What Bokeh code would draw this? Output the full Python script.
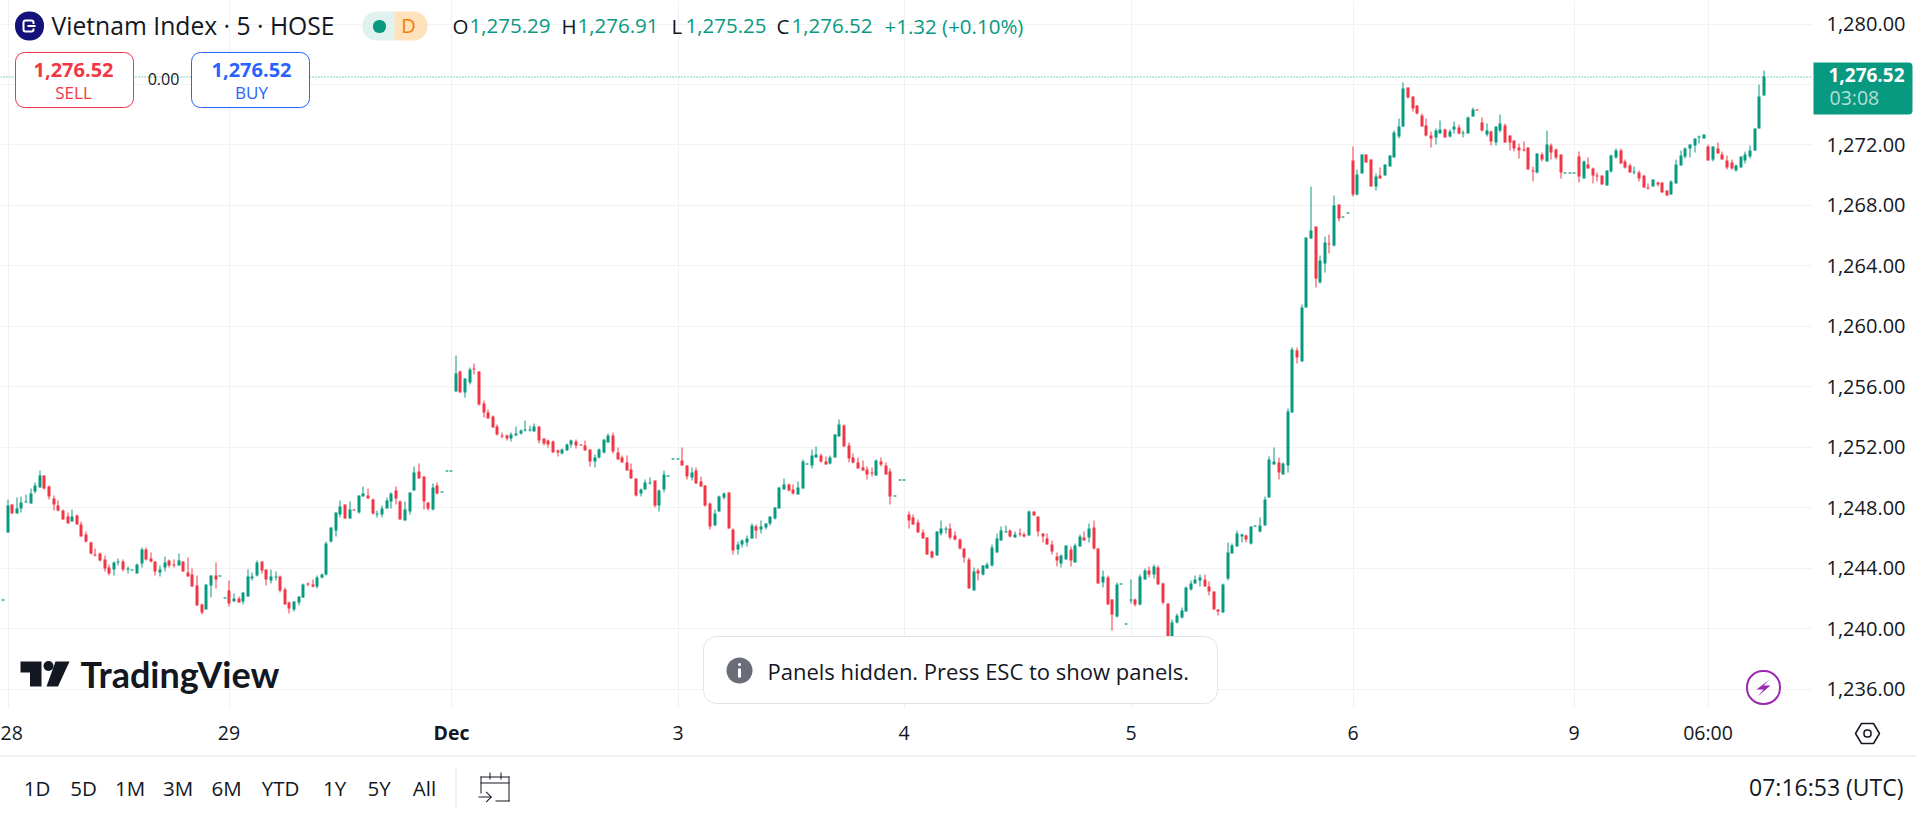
import math
import numpy as np
from bokeh.embed import file_html
from bokeh.resources import INLINE
from bokeh.models import (Range1d, FixedTicker, NumeralTickFormatter, Label, BoxAnnotation,
                          PolyAnnotation, ColumnDataSource)
from bokeh.plotting import figure

# ---------------- data ----------------
tick_prices = [1236, 1240, 1244, 1248, 1252, 1256, 1260, 1264, 1268, 1272, 1276, 1280]
time_tick_bars = [1, 49, 146, 195, 244, 292, 340, 369]
time_tick_labels = ["28", "29", "3", "4", "5", "6", "9", "06:00"]
month_tick_bar = 97
month_tick_label = "Dec"
range_buttons = ["1D", "5D", "1M", "3M", "6M", "YTD", "1Y", "5Y", "All"]
last_price = 1276.52

opens = [1241.95,
1246.37,1248.20,1247.63,1247.94,1248.36,1248.27,1249.06,1249.33,1250.12,
1249.39,1248.60,1248.13,1247.80,1247.41,1247.07,1247.47,1246.88,1246.21,1245.68,
1244.93,1244.96,1244.56,1244.03,1243.89,1244.38,1244.42,1243.92,1243.94,1243.63,
1244.29,1245.22,1244.62,1244.42,1243.70,1244.03,1244.49,1244.23,1244.16,1244.42,
1243.70,1243.56,1242.84,1241.58,1241.25,1242.84,1243.50,1243.48,1242.08,1242.50,
1241.78,1241.97,1241.78,1242.11,1243.30,1243.50,1244.42,1243.89,1243.17,1243.39,
1243.43,1242.57,1241.71,1241.25,1241.71,1242.04,1242.97,1242.90,1242.77,1243.37,
1243.56,1245.75,1246.48,1247.54,1248.20,1247.27,1247.88,1247.67,1248.73,1248.80,
1248.53,1247.56,1247.54,1247.94,1248.40,1249.13,1248.40,1247.14,1247.74,1249.13,
1250.39,1250.05,1248.33,1247.87,1249.46,1249.04,1250.43,1250.43,1255.69,1257.02,
1255.63,1256.29,1257.19,1257.02,1254.90,1254.30,1254.04,1253.37,1252.76,1252.78,
1252.58,1252.78,1252.91,1253.13,1253.13,1253.04,1253.37,1252.58,1252.45,1252.38,
1251.78,1251.58,1251.78,1252.18,1252.38,1252.21,1252.11,1251.85,1251.05,1251.32,
1251.65,1252.31,1252.78,1251.65,1251.32,1250.99,1250.52,1249.93,1248.94,1249.20,
1249.60,1249.80,1248.14,1249.20,1250.11,1251.25,1251.25,1251.12,1250.79,1250.00,
1250.46,1249.73,1249.47,1248.27,1246.82,1247.74,1248.67,1249.00,1246.57,1245.24,
1245.58,1245.71,1245.97,1246.77,1246.57,1246.70,1246.97,1247.30,1247.94,1249.20,
1249.53,1249.20,1248.87,1249.27,1250.90,1250.79,1251.32,1251.45,1251.05,1250.92,
1251.32,1252.71,1253.44,1252.11,1251.32,1250.99,1250.66,1250.52,1250.33,1250.13,
1251.05,1250.79,1250.39,1248.78,1249.84,1249.83,1247.54,1247.34,1247.01,1246.35,
1246.01,1245.09,1244.82,1246.28,1246.59,1246.61,1246.15,1245.88,1245.29,1244.56,
1242.50,1243.83,1243.56,1243.96,1244.16,1245.02,1245.82,1246.37,1246.48,1246.01,
1246.26,1246.21,1246.15,1247.74,1247.41,1246.28,1245.95,1245.55,1244.76,1244.29,
1244.56,1245.22,1244.36,1245.42,1246.01,1246.01,1246.68,1245.29,1243.03,1243.37,
1241.91,1240.78,1242.95,1240.36,1241.84,1241.91,1241.58,1243.23,1243.83,1243.56,
1244.03,1242.97,1241.64,1238.95,1240.38,1240.72,1241.11,1242.57,1242.97,1243.17,
1243.23,1242.77,1242.44,1241.25,1241.05,1243.30,1244.96,1245.42,1246.08,1246.15,
1245.62,1246.79,1246.41,1246.81,1248.66,1250.85,1250.98,1250.21,1250.80,1254.31,
1258.42,1257.69,1261.27,1265.84,1266.57,1262.92,1264.18,1265.51,1265.37,1268.09,
1267.27,1267.54,1270.99,1268.73,1270.12,1271.38,1271.05,1269.26,1269.99,1269.99,
1270.59,1271.18,1272.58,1273.24,1275.82,1275.22,1274.63,1273.97,1273.30,1272.64,
1272.51,1272.77,1273.04,1272.58,1273.04,1273.17,1272.82,1272.77,1273.90,1274.31,
1273.50,1272.71,1272.91,1272.18,1272.97,1273.30,1272.64,1272.31,1271.85,1271.71,
1271.85,1270.32,1270.19,1271.38,1270.92,1271.98,1271.71,1271.38,1270.17,1270.17,
1270.17,1271.25,1269.79,1270.72,1270.46,1269.99,1269.99,1269.33,1270.26,1271.18,
1271.65,1270.92,1270.66,1270.21,1270.19,1269.97,1269.17,1269.24,1269.50,1269.50,
1268.97,1268.71,1269.44,1270.63,1271.23,1271.76,1271.96,1272.51,1272.42,1271.89,
1271.03,1271.76,1271.36,1270.96,1270.83,1270.30,1270.50,1270.96,1271.23,1271.62,
1273.08,1275.29]

highs = [1241.95,
1248.53,1248.20,1248.66,1248.73,1248.86,1249.26,1249.66,1250.45,1250.12,
1249.46,1248.80,1248.47,1247.87,1247.67,1247.87,1247.54,1247.07,1246.41,1245.75,
1245.29,1245.02,1244.82,1244.23,1244.42,1244.62,1244.56,1244.09,1243.94,1244.29,
1245.35,1245.35,1245.02,1244.42,1244.16,1244.76,1244.56,1244.56,1244.96,1244.42,
1244.69,1243.96,1243.50,1241.64,1242.90,1243.50,1244.36,1243.48,1242.08,1243.17,
1242.30,1242.11,1242.37,1243.89,1243.70,1244.49,1244.42,1243.89,1243.89,1243.76,
1243.50,1242.70,1241.78,1241.78,1242.11,1242.97,1243.03,1243.23,1243.50,1243.63,
1245.75,1246.68,1247.67,1248.47,1248.20,1248.40,1247.88,1248.80,1249.39,1249.26,
1248.60,1247.80,1248.13,1248.66,1249.00,1249.39,1248.47,1248.40,1249.00,1250.72,
1250.92,1250.05,1248.33,1249.59,1249.66,1249.04,1250.43,1250.43,1258.08,1257.06,
1256.55,1257.28,1257.55,1257.02,1255.10,1254.50,1254.10,1253.51,1252.98,1252.84,
1252.98,1253.37,1253.17,1253.77,1253.44,1253.57,1253.37,1252.58,1252.51,1252.45,
1251.85,1251.92,1252.25,1252.51,1252.51,1252.21,1252.45,1251.85,1251.52,1251.92,
1252.51,1252.91,1252.98,1251.98,1251.45,1251.45,1250.92,1249.93,1249.27,1249.86,
1250.00,1249.80,1249.20,1250.46,1250.11,1251.25,1251.25,1251.98,1250.79,1250.66,
1250.66,1250.06,1249.47,1248.34,1247.88,1248.80,1249.00,1249.00,1246.63,1245.77,
1245.91,1246.17,1246.97,1246.90,1247.17,1246.97,1247.43,1248.03,1249.33,1249.93,
1249.60,1249.53,1249.73,1251.19,1250.90,1251.85,1252.05,1251.58,1251.39,1251.45,
1252.84,1253.84,1253.51,1252.31,1251.58,1251.32,1251.12,1250.72,1250.66,1251.19,
1251.32,1250.99,1250.59,1248.78,1249.84,1249.83,1247.74,1247.54,1247.21,1246.54,
1246.01,1245.15,1246.41,1247.14,1246.74,1246.94,1246.41,1245.95,1245.29,1244.69,
1244.03,1243.96,1244.16,1244.36,1245.55,1246.28,1246.74,1246.81,1246.54,1246.41,
1246.61,1246.35,1247.80,1247.74,1247.41,1246.28,1246.28,1245.82,1245.02,1244.89,
1245.48,1245.42,1245.62,1246.21,1246.41,1246.94,1247.14,1245.29,1243.83,1243.50,
1241.91,1243.03,1242.95,1240.36,1243.23,1241.97,1243.56,1243.96,1244.09,1244.23,
1244.16,1243.03,1241.64,1240.58,1240.98,1241.38,1242.77,1243.17,1243.50,1243.56,
1243.56,1243.10,1242.44,1241.25,1242.97,1245.68,1245.62,1246.48,1246.28,1246.21,
1246.74,1246.79,1247.34,1248.73,1251.38,1251.98,1251.31,1251.00,1254.58,1258.62,
1258.62,1261.47,1265.90,1269.22,1266.57,1264.65,1265.97,1266.04,1268.62,1268.09,
1267.27,1267.54,1271.91,1270.39,1271.38,1271.38,1271.05,1270.12,1270.52,1270.72,
1271.32,1272.97,1273.77,1276.15,1275.82,1275.22,1274.63,1274.10,1273.77,1272.91,
1273.11,1273.64,1273.11,1273.04,1273.57,1273.37,1272.97,1273.90,1274.50,1274.31,
1273.83,1273.44,1272.97,1273.24,1274.03,1273.44,1272.64,1272.31,1272.11,1272.24,
1271.85,1270.59,1271.45,1271.52,1272.97,1272.11,1271.78,1271.38,1270.17,1270.17,
1270.17,1271.58,1270.99,1271.18,1270.52,1270.19,1269.99,1270.32,1271.38,1271.78,
1271.78,1271.05,1270.79,1270.59,1270.32,1269.97,1269.44,1269.70,1269.57,1269.50,
1268.97,1269.64,1271.03,1271.62,1271.82,1272.02,1272.42,1272.62,1272.68,1272.02,
1271.89,1272.15,1271.56,1271.29,1271.03,1270.70,1271.23,1271.56,1271.96,1273.08,
1276.00,1276.91]

lows = [1241.95,
1246.37,1247.63,1247.63,1247.67,1248.36,1248.27,1248.95,1249.33,1249.19,
1248.53,1247.80,1247.74,1247.21,1246.94,1247.07,1246.88,1246.08,1245.68,1244.89,
1244.76,1244.42,1243.76,1243.50,1243.50,1244.16,1243.76,1243.63,1243.94,1243.63,
1244.03,1244.49,1244.36,1243.50,1243.43,1243.76,1244.03,1244.03,1244.16,1243.76,
1243.43,1242.77,1241.51,1240.91,1241.25,1242.04,1242.64,1243.48,1242.08,1241.44,
1241.78,1241.71,1241.58,1242.11,1243.17,1243.43,1243.63,1242.84,1242.97,1243.17,
1242.37,1241.58,1240.98,1241.11,1241.51,1242.04,1242.77,1242.70,1242.64,1243.30,
1243.50,1245.68,1246.08,1247.34,1247.27,1247.27,1247.87,1247.60,1248.73,1248.60,
1247.54,1247.34,1247.34,1247.94,1247.94,1248.20,1247.21,1247.14,1247.54,1249.13,
1249.92,1247.87,1247.80,1247.80,1248.86,1249.04,1250.43,1250.43,1255.69,1255.63,
1255.29,1256.16,1256.82,1254.76,1253.97,1253.90,1253.31,1252.78,1252.58,1252.45,
1252.38,1252.78,1252.84,1253.04,1253.04,1253.04,1252.25,1252.11,1251.98,1251.65,
1251.39,1251.52,1251.78,1251.98,1251.92,1252.20,1251.78,1250.72,1250.66,1251.25,
1251.58,1252.31,1251.58,1251.19,1250.99,1250.46,1249.93,1248.74,1248.74,1249.20,
1249.53,1248.01,1247.74,1249.00,1250.11,1251.25,1251.25,1250.79,1249.86,1249.80,
1249.60,1249.40,1248.07,1246.55,1246.82,1247.74,1248.54,1246.62,1244.91,1244.91,
1245.38,1245.44,1245.97,1245.97,1246.30,1246.57,1246.83,1247.23,1247.94,1249.20,
1249.07,1248.87,1248.87,1249.27,1250.90,1250.59,1251.32,1250.99,1250.86,1250.86,
1251.32,1252.71,1252.05,1250.99,1250.92,1250.59,1250.46,1249.86,1250.06,1250.13,
1250.72,1250.19,1248.21,1248.78,1249.84,1249.83,1246.61,1246.88,1246.35,1245.95,
1244.89,1244.62,1244.82,1246.15,1246.28,1245.88,1245.82,1245.22,1244.36,1242.64,
1242.50,1243.17,1243.50,1243.96,1244.09,1245.02,1245.82,1246.37,1246.01,1246.01,
1246.08,1246.01,1246.15,1247.47,1246.08,1245.68,1245.55,1244.89,1244.09,1244.03,
1244.56,1244.09,1244.36,1245.42,1245.82,1245.68,1245.22,1242.97,1242.70,1241.58,
1239.85,1240.72,1242.95,1240.36,1241.64,1241.44,1241.51,1243.23,1243.37,1243.30,
1242.90,1241.58,1238.90,1238.95,1240.32,1240.65,1241.11,1242.50,1242.97,1242.77,
1242.77,1242.17,1241.25,1240.85,1241.05,1243.17,1244.96,1245.42,1245.68,1245.68,
1245.55,1246.79,1246.35,1246.81,1248.66,1250.85,1249.86,1250.21,1250.34,1254.31,
1257.56,1257.69,1261.27,1265.84,1262.59,1262.86,1263.59,1264.84,1265.31,1266.90,
1267.27,1267.54,1268.60,1268.67,1270.12,1270.85,1269.26,1269.00,1269.79,1269.99,
1270.59,1271.18,1272.44,1273.24,1275.09,1274.23,1274.03,1273.24,1272.58,1271.85,
1272.05,1272.77,1272.51,1272.51,1272.77,1272.71,1272.51,1272.77,1273.90,1274.30,
1272.91,1272.58,1271.98,1271.98,1272.84,1272.18,1271.65,1271.58,1271.12,1271.58,
1270.39,1269.59,1270.12,1270.92,1270.92,1271.05,1271.05,1269.79,1270.17,1270.17,
1270.17,1269.53,1269.79,1270.46,1269.46,1269.59,1269.40,1269.33,1270.19,1271.12,
1270.79,1270.46,1270.19,1270.06,1269.59,1269.17,1269.04,1269.24,1269.24,1268.84,
1268.64,1268.71,1269.44,1270.63,1271.09,1271.16,1271.49,1272.09,1272.42,1270.96,
1270.90,1271.43,1271.03,1270.37,1270.37,1270.23,1270.50,1270.76,1271.09,1271.62,
1273.08,1275.25]

closes = [1241.95,
1248.13,1247.63,1247.94,1248.33,1248.38,1248.93,1249.46,1250.12,1249.26,
1248.73,1248.20,1247.80,1247.21,1246.94,1247.41,1246.88,1246.08,1245.75,1244.96,
1244.87,1244.49,1243.96,1243.63,1244.36,1244.42,1243.89,1243.96,1243.94,1244.23,
1245.22,1244.56,1244.42,1243.76,1243.89,1244.36,1244.16,1244.16,1244.49,1243.76,
1243.43,1242.77,1241.51,1241.05,1242.90,1243.50,1243.23,1243.48,1242.08,1241.64,
1241.97,1241.71,1242.37,1243.43,1243.43,1244.36,1243.83,1243.23,1243.43,1243.43,
1242.50,1241.58,1241.31,1241.78,1242.11,1242.90,1242.90,1242.77,1243.37,1243.56,
1245.62,1246.68,1247.67,1248.07,1247.27,1247.87,1247.87,1248.80,1248.93,1248.60,
1247.60,1247.60,1247.94,1248.47,1248.93,1248.60,1247.21,1247.87,1249.00,1250.32,
1249.92,1248.40,1247.94,1249.33,1248.93,1249.04,1250.43,1250.43,1256.88,1255.63,
1256.55,1257.15,1257.15,1254.83,1254.30,1253.90,1253.31,1252.84,1252.71,1252.58,
1252.84,1252.91,1253.11,1253.17,1253.17,1253.37,1252.45,1252.25,1252.18,1251.65,
1251.65,1251.85,1252.18,1252.45,1252.11,1252.20,1251.78,1251.05,1251.32,1251.85,
1252.51,1252.78,1251.72,1251.19,1250.99,1250.46,1249.93,1248.80,1249.20,1249.66,
1249.64,1248.14,1249.13,1250.19,1250.11,1251.25,1251.25,1250.79,1250.06,1250.33,
1249.60,1249.40,1248.14,1246.75,1247.61,1248.74,1248.94,1246.62,1245.18,1245.58,
1245.84,1245.97,1246.83,1246.50,1246.77,1246.97,1247.43,1248.03,1249.33,1249.53,
1249.13,1248.94,1249.33,1251.05,1250.90,1251.45,1251.52,1251.05,1250.86,1251.32,
1252.84,1253.51,1252.05,1251.25,1250.99,1250.59,1250.46,1250.19,1250.28,1251.12,
1250.86,1250.19,1248.74,1248.78,1249.84,1249.83,1247.14,1246.88,1246.35,1245.95,
1244.89,1244.69,1246.41,1246.61,1246.61,1246.01,1245.88,1245.29,1244.69,1242.64,
1243.76,1243.63,1244.16,1244.23,1245.35,1245.95,1246.48,1246.41,1246.08,1246.21,
1246.21,1246.08,1247.74,1247.47,1246.41,1246.08,1245.55,1245.09,1244.49,1244.82,
1245.48,1244.49,1245.48,1246.08,1245.82,1246.61,1245.29,1242.97,1243.43,1241.58,
1240.91,1242.90,1242.95,1240.36,1241.89,1241.58,1243.43,1243.83,1243.56,1244.09,
1242.90,1241.71,1238.90,1240.38,1240.85,1241.18,1242.70,1242.97,1243.23,1243.37,
1242.77,1242.44,1241.25,1241.11,1242.90,1245.02,1245.48,1246.28,1246.21,1245.88,
1246.74,1246.79,1246.81,1248.53,1251.18,1251.05,1250.32,1250.93,1254.38,1258.49,
1257.96,1261.27,1265.90,1266.37,1263.19,1264.38,1265.57,1265.46,1267.96,1267.16,
1267.27,1267.54,1268.73,1270.06,1271.38,1270.85,1269.26,1269.93,1269.79,1270.72,
1271.32,1272.84,1273.24,1275.76,1275.16,1274.43,1274.10,1273.24,1272.64,1272.44,
1272.97,1273.04,1272.51,1272.91,1273.24,1272.77,1272.84,1273.83,1274.36,1274.30,
1272.97,1272.97,1272.24,1273.24,1273.44,1272.18,1272.18,1271.78,1271.65,1271.67,
1270.39,1270.30,1271.45,1271.05,1272.05,1271.52,1271.18,1270.19,1270.17,1270.17,
1270.17,1269.93,1270.92,1270.46,1269.99,1269.95,1269.40,1270.32,1271.32,1271.65,
1270.79,1270.52,1270.19,1270.24,1269.79,1269.17,1269.13,1269.70,1269.37,1268.84,
1268.64,1269.57,1270.70,1271.29,1271.76,1272.02,1272.42,1272.55,1272.68,1270.96,
1271.89,1271.43,1271.03,1270.50,1270.43,1270.63,1271.23,1271.36,1271.62,1273.08,
1275.20,1276.52]

assert len(opens) == len(highs) == len(lows) == len(closes)

# ---------------- geometry ----------------
UP, DOWN = "#089981", "#F23645"
INK = "#131722"
FONT = "Open Sans"
W, H = 1916, 818
PANE_W, PANE_H = 1812, 708
X0, STEP = 2.4, 4.622
Y1280, K = 23.5, 15.114


def bar_x(i):
    return (math.floor(X0 + STEP * i) + 0.5 - X0) / STEP


def snap(price):
    return 1280 - (round(Y1280 + (1280 - price) * K) - Y1280) / K


n = len(opens)
xs = [bar_x(i) for i in range(n)]
tops, bots, wick_hi, wick_lo, colors = [], [], [], [], []
for o, h, l, c in zip(opens, highs, lows, closes):
    colors.append(DOWN if c < o else UP)
    t, b = snap(max(o, c)), snap(min(o, c))
    if t - b < 0.5 / K:
        b = t - 1 / K
    tops.append(t)
    bots.append(b)
    wick_hi.append(max(snap(h), t))
    wick_lo.append(min(snap(l), b))
source = ColumnDataSource(dict(x=xs, top=tops, bottom=bots, hi=wick_hi, lo=wick_lo, color=colors))

# the plotting frame fills the whole page; the axes sit at fixed places inside it
x_start = -X0 / STEP
x_end = (W - X0) / STEP
y_end = 1280 + Y1280 / K
y_start = 1280 - (H - Y1280) / K

p = figure(width=W, height=H, output_backend="svg", toolbar_location=None,
           x_range=Range1d(x_start, x_end), y_range=Range1d(y_start, y_end),
           y_axis_location="right", min_border=0,
           background_fill_color="white", border_fill_color="white", outline_line_color=None)

# axes and grid
tick_xs = [bar_x(i) for i in time_tick_bars]
xtick_all = tick_xs + [bar_x(month_tick_bar)]
p.xaxis.ticker = FixedTicker(ticks=xtick_all)
overrides = {x: t for x, t in zip(tick_xs, time_tick_labels)}
overrides[bar_x(month_tick_bar)] = " "
p.xaxis.major_label_overrides = overrides
p.yaxis.ticker = FixedTicker(ticks=tick_prices)
p.yaxis.formatter = NumeralTickFormatter(format="0,0.00")
p.xaxis.fixed_location = 1280 - (PANE_H - Y1280) / K
p.yaxis.fixed_location = (PANE_W - X0) / STEP
for ax in (p.xaxis[0], p.yaxis[0]):
    ax.axis_line_color = None
    ax.major_tick_line_color = None
    ax.minor_tick_line_color = None
    ax.major_tick_out = 0
    ax.major_tick_in = 0
    ax.minor_tick_out = 0
    ax.major_label_text_font = FONT
    ax.major_label_text_color = INK
p.xaxis.major_label_text_font_size = "19.5px"
p.yaxis.major_label_text_font_size = "20px"
p.xaxis.major_label_standoff = 10
p.yaxis.major_label_standoff = 14
p.xgrid.grid_line_color = "#F2F2F3"
p.ygrid.grid_line_color = "#F2F2F3"
p.xgrid.grid_line_width = 1
p.ygrid.grid_line_width = 1


# ---------------- overlays in canvas pixels ----------------
def label(text, x, y, size, color=INK, align="left", style="normal", alpha=1.0, font=FONT):
    p.add_layout(Label(x=x, y=y, x_units="canvas", y_units="canvas", text=text,
                       text_font=font, text_font_size=f"{size}px", text_color=color,
                       text_align=align, text_baseline="middle", text_font_style=style,
                       text_alpha=alpha, level="annotation"))


def box(l, t, r, b, fill=None, line=None, radius=0, lw=1, level="annotation"):
    if isinstance(radius, tuple):
        radius = tuple(int(round(v)) for v in radius)
    else:
        radius = int(round(radius))
    p.add_layout(BoxAnnotation(left=l, right=r, top=t, bottom=b,
                               left_units="canvas", right_units="canvas",
                               top_units="canvas", bottom_units="canvas",
                               fill_color=fill if fill else "white", fill_alpha=1 if fill else 0,
                               line_color=line if line else "white", line_alpha=1 if line else 0,
                               line_width=lw, border_radius=radius, level=level))


def poly(pts, fill=None, line=None, lw=1):
    p.add_layout(PolyAnnotation(xs=[a for a, _ in pts], ys=[b for _, b in pts],
                                xs_units="canvas", ys_units="canvas",
                                fill_color=fill if fill else "white", fill_alpha=1 if fill else 0,
                                line_color=line if line else "white", line_alpha=1 if line else 0,
                                line_width=lw, level="annotation"))


# mask the grid outside the price pane
box(PANE_W, 0, W, H, fill="white", level="underlay")
box(0, PANE_H, W, H, fill="white", level="underlay")

# candles
p.segment("x", "lo", "x", "hi", source=source, color="color", line_width=1)
p.vbar("x", width=3 / STEP, bottom="bottom", top="top", source=source,
       fill_color="color", line_color=None)

# last price line, only across the price pane
p.line([x_start, (PANE_W - X0) / STEP], [snap(last_price) - 0.5 / K] * 2,
       line_color=UP, line_width=1, line_dash="1 2")

# header: symbol icon
box(14.5, 11, 43.5, 40, fill="#14127A", radius=14.5)
box(23, 20, 33, 31, line="white", radius=2, lw=2)
box(26, 23.5, 36, 28, fill="#14127A")
box(27, 24.5, 35, 26.5, fill="white")
label("Vietnam Index · 5 · HOSE", 51, 25, 24.7)
# status pill
box(362, 11, 394, 40, fill="#DFF2EE", radius=(14, 0, 0, 14))
box(394, 11, 427, 40, fill="#FDE2BC", radius=(0, 14, 14, 0))
box(372.5, 19.5, 385.5, 32.5, fill=UP, radius=6)
label("D", 408, 25, 20, color="#F57C00", align="center")
# OHLC legend
for t, x_t, v, x_v in [("O", 452, "1,275.29", 469), ("H", 561, "1,276.91", 577),
                       ("L", 671, "1,275.25", 685), ("C", 776, "1,276.52", 791)]:
    label(t, x_t, 25, 20.5)
    label(v, x_v, 25, 20.5, color=UP)
label("+1.32 (+0.10%)", 884, 25, 20.5, color=UP)
# sell / buy
box(15, 52, 133, 107, fill="white", line=DOWN, radius=9)
box(191, 52, 309, 107, fill="white", line="#2962FF", radius=9)
label("1,276.52", 73, 69, 20, color=DOWN, align="center", style="bold")
label("SELL", 73, 92, 17, color=DOWN, align="center")
label("1,276.52", 251, 69, 20, color="#2962FF", align="center", style="bold")
label("BUY", 251, 92, 17, color="#2962FF", align="center")
label("0.00", 163, 78, 16, align="center")

# last price tag
box(1813, 62, 1912, 114, fill=UP, radius=(0, 4, 4, 0))
label("1,276.52", 1828, 74, 19, color="white", style="bold")
label("03:08", 1829, 97, 19.5, color="white", alpha=0.7)

# month label (bold)
label(month_tick_label, 451, 732, 19.5, align="center", style="bold")

# TradingView logo
poly([(20, 661), (41, 661), (41, 686), (29.5, 686), (29.5, 672), (20, 672)], fill=INK)
box(43, 660.5, 53, 670.5, fill=INK, radius=5)
poly([(55, 661), (69, 661), (57.5, 686), (46, 686)], fill=INK)
label("TradingView", 80, 673, 36, style="bold", font="Lato")

# toast
box(703, 636, 1217, 703, fill="white", line="#E0E3EB", radius=13)
box(726, 657, 752, 683, fill="#6A6D78", radius=13)
box(737.5, 668, 740.5, 677, fill="white")
box(737.5, 662.5, 740.5, 665.5, fill="white", radius=2)
label("Panels hidden. Press ESC to show panels.", 767, 670, 22)

# bolt badge
box(1746.5, 670.5, 1779.5, 703.5, line="#9C27B0", radius=16, lw=2)
poly([(1769, 679), (1756, 689), (1763, 689), (1757, 696), (1770, 685), (1763, 685)], fill="#9C27B0")

# settings hexagon
poly([(1855, 733), (1861, 723), (1873, 723), (1879, 733), (1873, 743), (1861, 743)], line=INK, lw=1.5)
box(1863.5, 729.5, 1870.5, 736.5, line=INK, radius=3, lw=1.5)

# bottom bar
box(0, 755, W, 756, fill="#E0E3EB")
for t, cx in zip(range_buttons, [36.6, 83, 129.5, 177.7, 226, 280, 334, 378.6, 424]):
    label(t, cx, 787, 20.5, align="center")
box(455, 769, 456, 806, fill="#E0E3EB")
# calendar icon
box(480, 776, 481, 793, fill=INK)
box(508, 776, 509, 801, fill=INK)
box(480, 776, 509, 777, fill=INK)
box(480, 782, 509, 783, fill=INK)
box(495, 800, 509, 801, fill=INK)
box(489, 772, 490, 779, fill=INK)
box(500, 772, 501, 779, fill=INK)
box(478, 796, 491, 797, fill=INK)
poly([(486, 791), (491.5, 796.5), (486, 802), (485.3, 801.3), (490, 796.5), (485.3, 791.7)], fill=INK)
label("07:16:53 (UTC)", 1903, 786, 23, align="right")

open("out.html", "w").write(file_html(p, INLINE))
